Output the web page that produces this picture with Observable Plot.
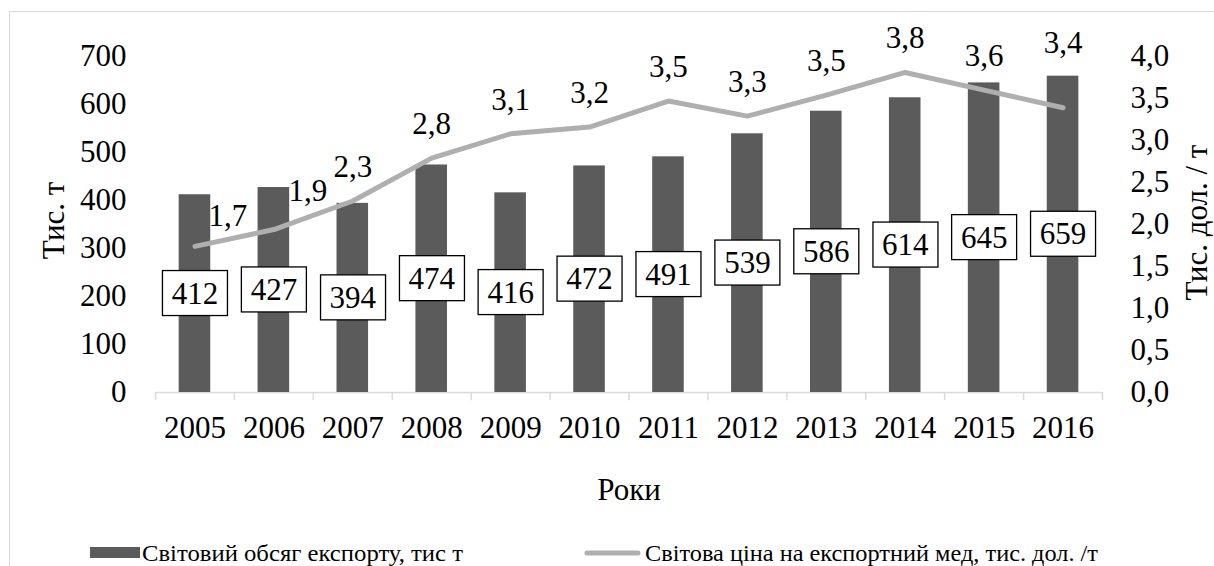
<!DOCTYPE html>
<html>
<head>
<meta charset="utf-8">
<script src="https://cdn.jsdelivr.net/npm/d3@7"></script>
<script src="https://cdn.jsdelivr.net/npm/@observablehq/plot@0.6"></script>
<style>
  body { margin: 0; background: #fff; }
  #wrap { position: relative; width: 1214px; height: 566px; overflow: hidden; font-family: 'Liberation Serif', Tinos, 'DejaVu Serif', 'Times New Roman', serif; }
  #wrap svg, #wrap svg text { font-family: 'Liberation Serif', Tinos, 'DejaVu Serif', 'Times New Roman', serif !important; }
  .frameTop { position: absolute; left: 9px; top: 11px; width: 1210px; height: 0; border-top: 1.5px solid #d9d9d9; }
  .frameLeft { position: absolute; left: 9px; top: 11px; width: 0; height: 560px; border-left: 1.5px solid #d9d9d9; }
  #chart { position: absolute; left: 0; top: 0; }
  #legend { position: absolute; left: 0; top: 520px; }
</style>
</head>
<body>
<div id="wrap">
  <div class="frameTop"></div>
  <div class="frameLeft"></div>
  <div id="chart"></div>
  <svg id="legend" width="1214" height="46"></svg>
</div>
<script>
// ---- data ----
const years = ["2005","2006","2007","2008","2009","2010","2011","2012","2013","2014","2015","2016"];
const exportVolume = [412, 427, 394, 474, 416, 472, 491, 539, 586, 614, 645, 659];
const exportPrice = [1.74, 1.94, 2.28, 2.79, 3.08, 3.16, 3.47, 3.29, 3.54, 3.81, 3.60, 3.39];
const leftTicks = [0, 100, 200, 300, 400, 500, 600, 700];
const rightTicks = [0, 0.5, 1, 1.5, 2, 2.5, 3, 3.5, 4];
const yTitleLeft = "Тис. т";
const yTitleRight = "Тис. дол. / т";
const xTitle = "Роки";
const legendLabels = ["Світовий обсяг експорту, тис  т", "Світова ціна на експортний мед, тис. дол. /т"];

// ---- setup ----
const leftMax = 700, rightMax = 4;
const ratio = leftMax / rightMax;
const barColor = "#5b5b5b";
const lineColor = "#afafaf";
const axisColor = "#d9d9d9";
const fontStack = "'Liberation Serif', Tinos, 'DejaVu Serif', 'Times New Roman', serif";
const fmt = v => v.toFixed(1).replace(".", ",");
const data = years.map((y, i) => ({year: y, volume: exportVolume[i], price: exportPrice[i]}));

const W = 1214, H = 520;
const mL = 155, mR = 112, mT = 56, mB = 128;
const bw = (W - mL - mR) / years.length;

const plot = Plot.plot({
  width: W, height: H,
  marginLeft: mL, marginRight: mR, marginTop: mT, marginBottom: mB,
  style: {fontFamily: fontStack, fontSize: "31px", background: "transparent", overflow: "visible", color: "#000"},
  x: {domain: years, paddingInner: 0.6, paddingOuter: 0.3, align: 0.5, round: false, axis: null},
  y: {domain: [0, leftMax], axis: null},
  marks: [
    Plot.axisY(leftTicks, {anchor: "left", tickSize: 0, tickPadding: 29, tickFormat: d => String(d), label: null}),
    Plot.axisY(rightTicks.map(v => v * ratio), {anchor: "right", tickSize: 0, tickPadding: 28, tickFormat: d => fmt(d / ratio), label: null}),
    Plot.ruleY([0], {stroke: axisColor, strokeWidth: 1.5}),
    Plot.ruleX(years, {x: d => d, y1: 0, y2: -17, dx: -bw / 2, stroke: axisColor, strokeWidth: 1.5}),
    Plot.ruleX(years.slice(-1), {x: d => d, y1: 0, y2: -17, dx: bw / 2, stroke: axisColor, strokeWidth: 1.5}),
    Plot.barY(data, {x: "year", y: "volume", fill: barColor}),
    Plot.line(data, {x: "year", y: d => d.price * ratio, stroke: lineColor, strokeWidth: 5, strokeLinecap: "round", strokeLinejoin: "round"}),
    // price labels
    Plot.text(data, {filter: (d, i) => i >= 2 && i < years.length - 1, x: "year", y: d => d.price * ratio, text: d => fmt(d.price), dy: -34}),
    Plot.text(data, {filter: (d, i) => i === 0, x: "year", y: d => d.price * ratio, text: d => fmt(d.price), dx: 33, dy: -30}),
    Plot.text(data, {filter: (d, i) => i === 1, x: "year", y: d => d.price * ratio, text: d => fmt(d.price), dx: 34, dy: -38}),
    Plot.text(data, {filter: (d, i) => i === years.length - 1, x: "year", y: d => d.price * ratio, text: d => fmt(d.price), dy: -65}),
    // volume labels (boxed afterwards)
    Plot.text(data, {x: "year", y: d => d.volume / 2, text: d => String(d.volume), fill: "#010101"}),
    // year labels
    Plot.text(years, {x: d => d, y: 0, dy: 36, text: d => d}),
    // titles
    Plot.text([yTitleLeft], {frameAnchor: "left", rotate: -90, textAnchor: "middle", lineAnchor: "middle", dx: -101, dy: -4, text: d => d}),
    Plot.text([yTitleRight], {frameAnchor: "right", rotate: -90, textAnchor: "middle", lineAnchor: "middle", dx: 95, dy: -2, text: d => d}),
    Plot.text([xTitle], {frameAnchor: "bottom", textAnchor: "middle", lineAnchor: "middle", dy: 98, text: d => d})
  ]
});
document.getElementById("chart").append(plot);

// boxes behind volume labels
const labelGroup = plot.querySelector('g[fill="#010101"]');
if (labelGroup) {
  labelGroup.querySelectorAll("text").forEach(t => {
    const b = t.getBBox();
    const cx = b.x + b.width / 2, cy = b.y + b.height / 2;
    const bwid = 65, bh = 45;
    const r = document.createElementNS("http://www.w3.org/2000/svg", "rect");
    r.setAttribute("x", cx - bwid / 2);
    r.setAttribute("y", cy - bh / 2);
    r.setAttribute("width", bwid);
    r.setAttribute("height", bh);
    r.setAttribute("fill", "#fff");
    r.setAttribute("stroke", "#000");
    r.setAttribute("stroke-width", 1.3);
    const tr = t.getAttribute("transform");
    if (tr) r.setAttribute("transform", tr);
    labelGroup.insertBefore(r, t);
  });
}

// legend
const lg = d3.select("#legend").style("font-family", fontStack);
lg.append("rect").attr("x", 90).attr("y", 27).attr("width", 50).attr("height", 11).attr("fill", barColor);
lg.append("text").attr("x", 142).attr("y", 41).attr("font-size", 23).attr("textLength", 321).attr("lengthAdjust", "spacingAndGlyphs").text(legendLabels[0]);
lg.append("line").attr("x1", 587).attr("x2", 638).attr("y1", 33).attr("y2", 33).attr("stroke", lineColor).attr("stroke-width", 5).attr("stroke-linecap", "round");
lg.append("text").attr("x", 645).attr("y", 41).attr("font-size", 23).attr("textLength", 453).attr("lengthAdjust", "spacingAndGlyphs").text(legendLabels[1]);
</script>
</body>
</html>
